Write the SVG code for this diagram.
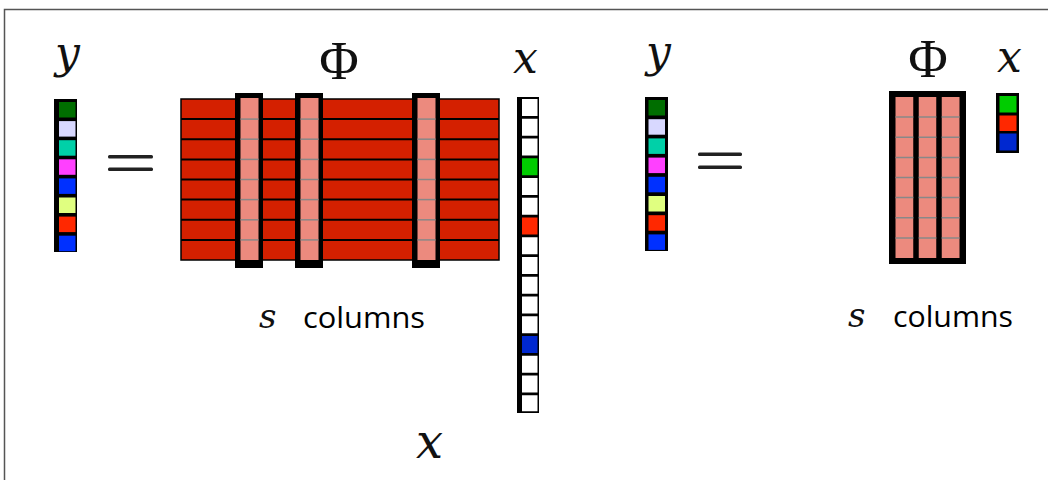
<svg xmlns="http://www.w3.org/2000/svg" width="1048" height="480" viewBox="0 0 1048 480">
<style>
.math{font-family:"DejaVu Serif","Liberation Serif",serif;font-style:italic;fill:#111}
.phi{font-family:"Liberation Serif","DejaVu Serif",serif;fill:#111}
.lbl{font-family:"Open Sans","Liberation Sans",sans-serif;fill:#000}
.row{stroke:#000;stroke-width:2}
.prow{stroke:#888;stroke-width:1.5}
.eq{fill:#222}
</style>
<rect x="4.5" y="9.5" width="1060" height="490" fill="#fff" stroke="#555" stroke-width="1.5"/>

<g id="y-left">
<text class="math" x="55" y="68" font-size="44">y</text>
<rect x="54" y="99" width="23" height="153" fill="#000"/>
<rect x="59" y="102" width="16.5" height="15.5" fill="#006e00"/>
<rect x="59" y="121.1" width="16.5" height="15.5" fill="#d8d8ff"/>
<rect x="59" y="140.2" width="16.5" height="15.5" fill="#00d0a8"/>
<rect x="59" y="159.3" width="16.5" height="15.5" fill="#ff40ff"/>
<rect x="59" y="178.4" width="16.5" height="15.5" fill="#0030ff"/>
<rect x="59" y="197.5" width="16.5" height="15.5" fill="#e0ff80"/>
<rect x="59" y="216.6" width="16.5" height="15.5" fill="#ff2800"/>
<rect x="59" y="235.7" width="16.5" height="15.5" fill="#0030ff"/>
</g>

<g id="eq-left">
<rect class="eq" x="108" y="155" width="45" height="3.5" rx="1.5"/>
<rect class="eq" x="108" y="167.5" width="45" height="3.5" rx="1.5"/>
</g>

<g id="phi-left">
<text class="phi" x="339" y="79" font-size="54" text-anchor="middle">Φ</text>
<rect x="181" y="99" width="318" height="161" fill="#d42000" stroke="#000" stroke-width="1.5"/>
<line class="row" x1="181" y1="119.1" x2="499" y2="119.1"/>
<line class="row" x1="181" y1="139.2" x2="499" y2="139.2"/>
<line class="row" x1="181" y1="159.4" x2="499" y2="159.4"/>
<line class="row" x1="181" y1="179.5" x2="499" y2="179.5"/>
<line class="row" x1="181" y1="199.6" x2="499" y2="199.6"/>
<line class="row" x1="181" y1="219.8" x2="499" y2="219.8"/>
<line class="row" x1="181" y1="239.9" x2="499" y2="239.9"/>
<g id="col1">
<rect x="235" y="93" width="28" height="175" fill="#000"/>
<rect x="240.5" y="98" width="18" height="162" fill="#ec8a7e"/>
</g>
<g id="col2">
<rect x="295" y="93" width="28" height="175" fill="#000"/>
<rect x="300.5" y="98" width="18" height="162" fill="#ec8a7e"/>
</g>
<g id="col3">
<rect x="412" y="93" width="28" height="175" fill="#000"/>
<rect x="417.5" y="98" width="18" height="162" fill="#ec8a7e"/>
</g>
<g class="prow">
<line x1="240.5" y1="119.1" x2="258.5" y2="119.1"/><line x1="240.5" y1="139.2" x2="258.5" y2="139.2"/><line x1="240.5" y1="159.4" x2="258.5" y2="159.4"/><line x1="240.5" y1="179.5" x2="258.5" y2="179.5"/><line x1="240.5" y1="199.6" x2="258.5" y2="199.6"/><line x1="240.5" y1="219.8" x2="258.5" y2="219.8"/><line x1="240.5" y1="239.9" x2="258.5" y2="239.9"/>
<line x1="300.5" y1="119.1" x2="318.5" y2="119.1"/><line x1="300.5" y1="139.2" x2="318.5" y2="139.2"/><line x1="300.5" y1="159.4" x2="318.5" y2="159.4"/><line x1="300.5" y1="179.5" x2="318.5" y2="179.5"/><line x1="300.5" y1="199.6" x2="318.5" y2="199.6"/><line x1="300.5" y1="219.8" x2="318.5" y2="219.8"/><line x1="300.5" y1="239.9" x2="318.5" y2="239.9"/>
<line x1="417.5" y1="119.1" x2="435.5" y2="119.1"/><line x1="417.5" y1="139.2" x2="435.5" y2="139.2"/><line x1="417.5" y1="159.4" x2="435.5" y2="159.4"/><line x1="417.5" y1="179.5" x2="435.5" y2="179.5"/><line x1="417.5" y1="199.6" x2="435.5" y2="199.6"/><line x1="417.5" y1="219.8" x2="435.5" y2="219.8"/><line x1="417.5" y1="239.9" x2="435.5" y2="239.9"/>
</g>
<text class="math" x="259" y="328" font-size="34">s</text>
<text class="lbl" x="303" y="328" font-size="30" textLength="122" lengthAdjust="spacingAndGlyphs">columns</text>
</g>

<g id="x-left">
<text class="math" x="513" y="73" font-size="44">x</text>
<rect x="517" y="97" width="22" height="316" fill="#000"/>
<g fill="#fff">
<rect x="522" y="99" width="15.5" height="17"/>
<rect x="522" y="118.75" width="15.5" height="17"/>
<rect x="522" y="138.5" width="15.5" height="17"/>
<rect x="522" y="158.25" width="15.5" height="17" fill="#00cc00"/>
<rect x="522" y="178" width="15.5" height="17"/>
<rect x="522" y="197.75" width="15.5" height="17"/>
<rect x="522" y="217.5" width="15.5" height="17" fill="#ff2800"/>
<rect x="522" y="237.25" width="15.5" height="17"/>
<rect x="522" y="257" width="15.5" height="17"/>
<rect x="522" y="276.75" width="15.5" height="17"/>
<rect x="522" y="296.5" width="15.5" height="17"/>
<rect x="522" y="316.25" width="15.5" height="17"/>
<rect x="522" y="336" width="15.5" height="17" fill="#0028d0"/>
<rect x="522" y="355.75" width="15.5" height="17"/>
<rect x="522" y="375.5" width="15.5" height="17"/>
<rect x="522" y="395.25" width="15.5" height="16"/>
</g>
</g>

<g id="x-bottom">
<text class="math" x="416" y="458" font-size="48">x</text>
</g>

<g id="y-right">
<text class="math" x="646" y="67" font-size="44">y</text>
<rect x="645" y="97" width="23" height="154" fill="#000"/>
<rect x="648.5" y="100" width="16.5" height="15.5" fill="#006e00"/>
<rect x="648.5" y="119.2" width="16.5" height="15.5" fill="#d8d8ff"/>
<rect x="648.5" y="138.4" width="16.5" height="15.5" fill="#00d0a8"/>
<rect x="648.5" y="157.6" width="16.5" height="15.5" fill="#ff40ff"/>
<rect x="648.5" y="176.8" width="16.5" height="15.5" fill="#0030ff"/>
<rect x="648.5" y="196" width="16.5" height="15.5" fill="#e0ff80"/>
<rect x="648.5" y="215.2" width="16.5" height="15.5" fill="#ff2800"/>
<rect x="648.5" y="234.4" width="16.5" height="15.5" fill="#0030ff"/>
</g>

<g id="eq-right">
<rect class="eq" x="698" y="152.5" width="44" height="3.5" rx="1.5"/>
<rect class="eq" x="698" y="165.5" width="44" height="3.5" rx="1.5"/>
</g>

<g id="phi-right">
<text class="phi" x="928" y="77" font-size="54" text-anchor="middle">Φ</text>
<rect x="889" y="91" width="77" height="173" fill="#000"/>
<rect x="895.5" y="97" width="18" height="161" fill="#ec8a7e"/>
<rect x="918.5" y="97" width="18" height="161" fill="#ec8a7e"/>
<rect x="941.5" y="97" width="18" height="161" fill="#ec8a7e"/>
<g class="prow">
<line x1="895.5" y1="117.1" x2="959.5" y2="117.1"/>
<line x1="895.5" y1="137.2" x2="959.5" y2="137.2"/>
<line x1="895.5" y1="157.4" x2="959.5" y2="157.4"/>
<line x1="895.5" y1="177.5" x2="959.5" y2="177.5"/>
<line x1="895.5" y1="197.6" x2="959.5" y2="197.6"/>
<line x1="895.5" y1="217.8" x2="959.5" y2="217.8"/>
<line x1="895.5" y1="237.9" x2="959.5" y2="237.9"/>
</g>
<rect x="913.5" y="97" width="5" height="161" fill="#000"/>
<rect x="936.5" y="97" width="5" height="161" fill="#000"/>
<text class="math" x="848" y="327" font-size="34">s</text>
<text class="lbl" x="893" y="327" font-size="30" textLength="120" lengthAdjust="spacingAndGlyphs">columns</text>
</g>

<g id="x-right">
<text class="math" x="997" y="72" font-size="44">x</text>
<rect x="996" y="93" width="23" height="60" fill="#000"/>
<rect x="999.5" y="96" width="17" height="16.5" fill="#00cc00"/>
<rect x="999.5" y="115.5" width="17" height="15.5" fill="#ff2800"/>
<rect x="999.5" y="133.5" width="17" height="17" fill="#0028d0"/>
</g>
</svg>
